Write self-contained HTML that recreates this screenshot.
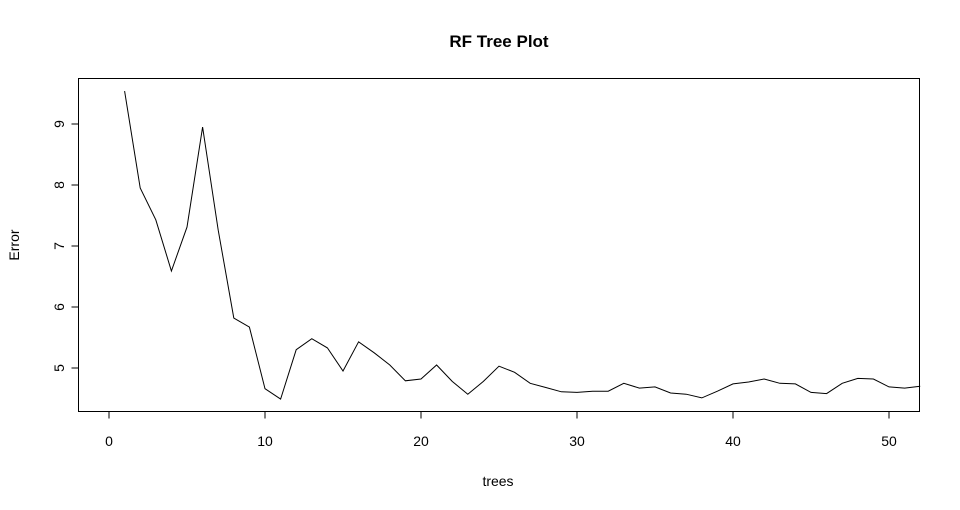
<!DOCTYPE html>
<html><head><meta charset="utf-8"><style>
body{margin:0;background:#fff}
svg{display:block;font-family:"Liberation Sans",Arial,sans-serif}
</style></head><body>
<svg id="chart" width="960" height="510">
<text x="499" y="47" text-anchor="middle" font-weight="bold" font-size="17">RF Tree Plot</text>
<text x="498" y="486" text-anchor="middle" font-size="14">trees</text>
<text x="19" y="245" text-anchor="middle" font-size="14" transform="rotate(-90 19 245)">Error</text>
<rect x="78.5" y="78.5" width="841" height="333" fill="none" stroke="#000"/>
<g id="axes"></g>
<path id="line" fill="none" stroke="#000" stroke-width="1"/>
</svg>
<script>
const xTicks=[0,10,20,30,40,50];
const yTicks=[5,6,7,8,9];
const errors=[9.54,7.95,7.43,6.59,7.31,8.95,7.26,5.82,5.67,4.66,4.49,5.30,5.48,5.33,4.95,5.43,5.25,5.05,4.79,4.82,5.05,4.78,4.57,4.78,5.03,4.93,4.75,4.68,4.61,4.60,4.62,4.62,4.75,4.67,4.69,4.59,4.57,4.51,4.62,4.74,4.77,4.82,4.75,4.74,4.60,4.58,4.75,4.83,4.82,4.69,4.67,4.70];
const X=v=>109+v*15.6;
const Y=v=>124+(9-v)*61;
const ns="http://www.w3.org/2000/svg";
const g=document.getElementById('axes');
function mk(t,a){const e=document.createElementNS(ns,t);for(const k in a)e.setAttribute(k,a[k]);return e;}
xTicks.forEach(v=>{
 const l=mk('line',{x1:X(v),x2:X(v),y1:411.5,y2:418.5,stroke:'#000'});
 
 
 g.appendChild(l);
 const t=mk('text',{x:X(v),y:446,'text-anchor':'middle','font-size':14});
 
 
 t.textContent=v;g.appendChild(t);
});
yTicks.forEach(v=>{
 const l=mk('line',{x1:71.5,x2:78.5,y1:Y(v),y2:Y(v),stroke:'#000'});
 
 
 g.appendChild(l);
 const t=mk('text',{x:64,y:Y(v),'text-anchor':'middle','font-size':14,transform:`rotate(-90 64 ${Y(v)})`});
 
 
 t.textContent=v;g.appendChild(t);
});
document.getElementById('line').setAttribute('d',errors.map((v,i)=>(i?'L':'M')+X(i+1).toFixed(1)+' '+Y(v).toFixed(1)).join(' '));
</script>
</body></html>
